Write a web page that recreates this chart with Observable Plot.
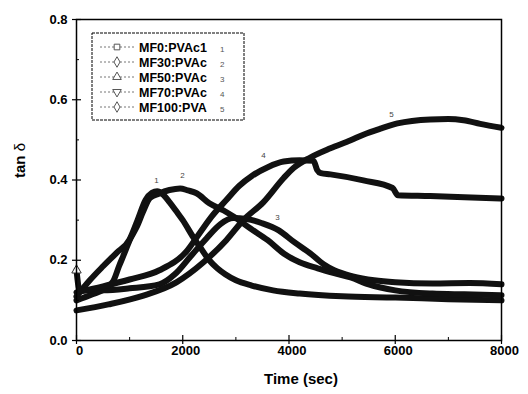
<!DOCTYPE html>
<html><head><meta charset="utf-8">
<script src="https://cdn.jsdelivr.net/npm/d3@7"></script>
<script src="https://cdn.jsdelivr.net/npm/@observablehq/plot@0.6"></script>
<style>
html,body{margin:0;padding:0;background:#fff;}
#chart{width:528px;height:394px;}
</style></head><body><div id="chart"></div>
<script>
const seriesNames = ["MF0:PVAc1","MF30:PVAc","MF50:PVAc","MF70:PVAc","MF100:PVA"];
const seriesTags = ["1","2","3","4","5"];
const seriesSymbols = ["square","diamond","triangle","triangle-down","diamond"];

const t1 = [0,250,500,750,1000,1150,1300,1420,1520,1620,1750,1880,2000,2200,2350,2500,2650,2800,3000,3300,3700,4200,5000,6000,7000,8000];
const y1 = [0.11,0.15,0.185,0.218,0.252,0.30,0.35,0.368,0.372,0.365,0.345,0.322,0.30,0.257,0.228,0.20,0.18,0.165,0.15,0.137,0.125,0.117,0.11,0.107,0.103,0.100];
const t2 = [0,300,550,700,800,900,1000,1130,1250,1380,1550,1750,1950,2100,2260,2500,2770,3000,3275,3600,3900,4200,4540,4850,5160,5500,6000,6700,7300,8000];
const y2 = [0.10,0.115,0.13,0.15,0.185,0.217,0.25,0.282,0.32,0.355,0.366,0.375,0.379,0.374,0.367,0.342,0.324,0.305,0.279,0.25,0.217,0.195,0.18,0.168,0.157,0.14,0.125,0.117,0.115,0.113];
const t3 = [0,60,500,1000,1560,1850,2150,2450,2710,2950,3200,3500,3800,4100,4400,4650,4850,5200,5600,6000,6700,7400,8000];
const y3 = [0.175,0.125,0.125,0.13,0.14,0.165,0.21,0.255,0.29,0.305,0.303,0.292,0.275,0.245,0.217,0.19,0.175,0.16,0.15,0.145,0.142,0.143,0.14];
const t4 = [0,500,1000,1560,2070,2330,2550,2820,3060,3300,3600,3900,4200,4460,4530,4600,4780,5400,5950,6050,6660,7300,8000];
const y4 = [0.12,0.135,0.152,0.175,0.222,0.27,0.31,0.35,0.385,0.41,0.432,0.446,0.449,0.448,0.425,0.417,0.414,0.399,0.38,0.362,0.36,0.357,0.354];
const t5 = [0,600,1260,1880,2390,2820,3140,3520,3900,4085,4400,4780,5160,5400,5720,6040,6660,7000,7285,7600,8000];
const y5 = [0.075,0.09,0.112,0.145,0.195,0.25,0.30,0.345,0.405,0.43,0.456,0.479,0.499,0.513,0.528,0.541,0.551,0.552,0.549,0.54,0.53];

const peakLabelX = [1506,1995,3784,3520,5929];
const peakLabelY = [0.399,0.411,0.307,0.461,0.563];

const xTicks = [0,2000,4000,6000,8000];
const xMinor = [1000,3000,5000,7000];
const yTicks = [0,0.2,0.4,0.6,0.8];
const yMinor = [0.1,0.3,0.5,0.7];

const times = [t1,t2,t3,t4,t5];
const vals = [y1,y2,y3,y4,y5];
const rows = [];
times.forEach((ts,i)=>ts.forEach((t,j)=>rows.push({series:seriesNames[i], t, v:vals[i][j]})));
const peakLabels = seriesTags.map((s,i)=>({tag:s, t:peakLabelX[i], v:peakLabelY[i]}));
const firstTri = [{t:t3[0], v:y3[0]}];

const W=528,H=394,mL=76,mR=27,mT=19,mB=54;
const fw = W-mL-mR, fh = H-mT-mB;
const font = "'Liberation Sans', Arial, Helvetica, sans-serif";

const chart = Plot.plot({
  width:W, height:H, marginLeft:mL, marginRight:mR, marginTop:mT, marginBottom:mB,
  x:{domain:[0,8000]}, y:{domain:[0,0.8]},
  style:{fontFamily:font, fontSize:"13px", fontWeight:"bold", color:"#000", background:"#fff", overflow:"visible"},
  marks:[
    Plot.line(rows,{x:"t",y:"v",z:"series",stroke:"#111",strokeWidth:6,curve:"monotone-x",strokeLinejoin:"round"}),
    Plot.dot(firstTri,{x:"t",y:"v",symbol:"triangle",r:3.5,fill:"#fff",stroke:"#333",strokeWidth:1}),
    Plot.text(peakLabels,{x:"t",y:"v",text:"tag",fontSize:8,fontWeight:"normal",fill:"#444"}),
    Plot.frame({stroke:"#000",strokeWidth:1.5}),
    Plot.tickX(xTicks,{x:d=>d,insetTop:fh-5,insetBottom:-4,stroke:"#000",strokeWidth:1.2}),
    Plot.tickX(xMinor,{x:d=>d,insetTop:fh-3,stroke:"#000",strokeWidth:1}),
    Plot.tickY(yTicks,{y:d=>d,insetRight:fw-5,insetLeft:-4,stroke:"#000",strokeWidth:1.2}),
    Plot.tickY(yMinor,{y:d=>d,insetRight:fw-3,stroke:"#000",strokeWidth:1}),
    Plot.axisX({ticks:xTicks,tickSize:0,tickPadding:5,dx:3,tickFormat:d=>String(d),label:null,fontSize:13,fontWeight:"bold"}),
    Plot.axisY({ticks:yTicks,tickSize:0,tickPadding:9,tickFormat:d3.format(".1f"),label:null,fontSize:13,fontWeight:"bold"}),
    Plot.text(["Time (sec)"],{frameAnchor:"bottom",dy:43,dx:12,fontSize:15,fontWeight:"bold"}),
    Plot.text(["tan δ"],{frameAnchor:"left",dx:-56,dy:-2,rotate:-90,fontSize:15,fontWeight:"bold"})
  ]
});
document.getElementById("chart").appendChild(chart);

// mixed-weight y label
const svg = d3.select(chart);
svg.selectAll("text").filter(function(){return this.textContent==="tan δ";}).each(function(){
  const t = d3.select(this); t.text("");
  t.append("tspan").attr("font-weight","bold").text("tan ");
  t.append("tspan").attr("font-weight","normal").text("δ");
});

// legend inside the plot
const lg = svg.append("g").attr("font-family",font).attr("text-anchor","start");
const lx=92, ly=33, lw=152, lh=87, rowH=15;
lg.append("rect").attr("x",lx).attr("y",ly).attr("width",lw).attr("height",lh)
  .attr("fill","#fff").attr("stroke","#000").attr("stroke-width",1).attr("stroke-dasharray","3,1");
seriesNames.forEach((name,i)=>{
  const cy = ly+14+i*rowH;
  lg.append("line").attr("x1",lx+8).attr("x2",lx+42).attr("y1",cy).attr("y2",cy)
    .attr("stroke","#777").attr("stroke-width",1).attr("stroke-dasharray","2,2");
  const sym = {square:d3.symbolSquare,diamond:d3.symbolDiamond,triangle:d3.symbolTriangle,"triangle-down":d3.symbolTriangle}[seriesSymbols[i]];
  lg.append("path").attr("d",d3.symbol(sym,32)())
    .attr("transform",`translate(${lx+25},${cy})`+(seriesSymbols[i]==="triangle-down"?" rotate(180)":""))
    .attr("fill","#fff").attr("stroke","#555").attr("stroke-width",1);
  lg.append("text").attr("x",lx+47).attr("y",cy).attr("dy","0.36em").attr("text-anchor","start")
    .attr("font-size",12.5).attr("font-weight","bold").attr("fill","#000").text(name);
  lg.append("text").attr("x",lx+128).attr("y",cy+2).attr("dy","0.36em").attr("text-anchor","start")
    .attr("font-size",8).attr("font-weight","normal").attr("fill","#555").text(seriesTags[i]);
});
</script></body></html>
